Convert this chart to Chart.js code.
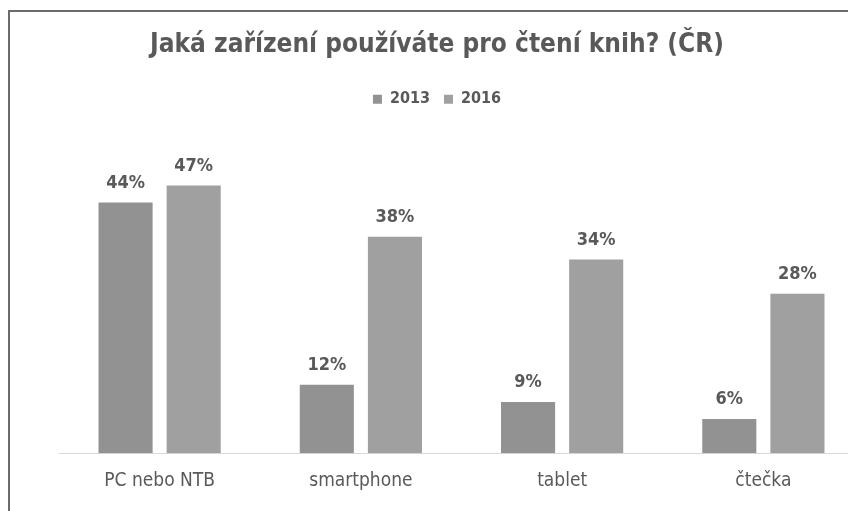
<!DOCTYPE html>
<html>
<head>
<meta charset="utf-8">
<script src="https://cdn.jsdelivr.net/npm/chart.js@4/dist/chart.umd.min.js"></script>
<style>
  html, body { margin: 0; padding: 0; background: #ffffff; overflow: hidden; width: 848px; height: 511px; }
  #frame { position: absolute; left: 8px; top: 10px; width: 870px; height: 510px;
           border-top: 2px solid #6b6b6b; border-left: 2px solid #6b6b6b; background: #fff; }
  #wrap { position: absolute; left: 0; top: 0; width: 860px; height: 500px; }
</style>
</head>
<body>
<div id="frame"><div id="wrap"><canvas id="c"></canvas></div></div>
<script>
const titleText = 'Jaká zařízení používáte pro čtení knih? (ČR)';
const categories = ['PC nebo NTB', 'smartphone', 'tablet', 'čtečka'];
const seriesNames = ['2013', '2016'];
const values2013 = [44, 12, 9, 6];
const values2016 = [47, 38, 34, 28];
const seriesColors = ['#929292', '#a0a0a0'];

const FONT = "'Liberation Sans Narrow', 'DejaVu Sans Condensed', 'Arial Narrow', sans-serif";
const TEXT = '#595959';

const dataLabels = {
  id: 'dataLabels',
  afterDatasetsDraw(chart) {
    const ctx = chart.ctx;
    ctx.save();
    ctx.font = 'bold 18px ' + FONT;
    ctx.fillStyle = TEXT;
    ctx.textAlign = 'center';
    ctx.textBaseline = 'alphabetic';
    chart.data.datasets.forEach((ds, i) => {
      chart.getDatasetMeta(i).data.forEach((bar, j) => {
        ctx.fillText(ds.data[j] + '%', bar.x, bar.y - 15);
      });
    });
    ctx.restore();
  }
};

new Chart(document.getElementById('c'), {
  type: 'bar',
  data: {
    labels: categories,
    datasets: [
      { label: seriesNames[0], data: values2013, backgroundColor: seriesColors[0] },
      { label: seriesNames[1], data: values2016, backgroundColor: seriesColors[1] }
    ]
  },
  options: {
    responsive: true,
    maintainAspectRatio: false,
    animation: false,
    devicePixelRatio: 1,
    categoryPercentage: 0.677,
    barPercentage: 0.794,
    layout: { padding: { left: 0, right: 6, top: 0, bottom: 4 } },
    plugins: {
      title: {
        display: true,
        text: titleText,
        color: TEXT,
        font: { family: FONT, size: 26, weight: 'bold' },
        padding: { top: 18, bottom: 16 }
      },
      legend: {
        display: true,
        position: 'top',
        labels: {
          color: TEXT,
          font: { family: FONT, size: 16, weight: 'bold' },
          boxWidth: 9, boxHeight: 9, padding: 14
        }
      },
      tooltip: { enabled: false }
    },
    scales: {
      x: {
        grid: { display: false, drawTicks: false },
        border: { display: true, color: '#d9d9d9', width: 1 },
        ticks: { color: TEXT, font: { family: FONT, size: 19 }, padding: 16 }
      },
      y: {
        display: true,
        min: 0,
        max: 59,
        grid: { display: false, drawTicks: false },
        border: { display: false },
        ticks: { display: false },
        afterFit(scale) { scale.width = 49; }
      }
    }
  },
  plugins: [dataLabels]
});
</script>
</body>
</html>
